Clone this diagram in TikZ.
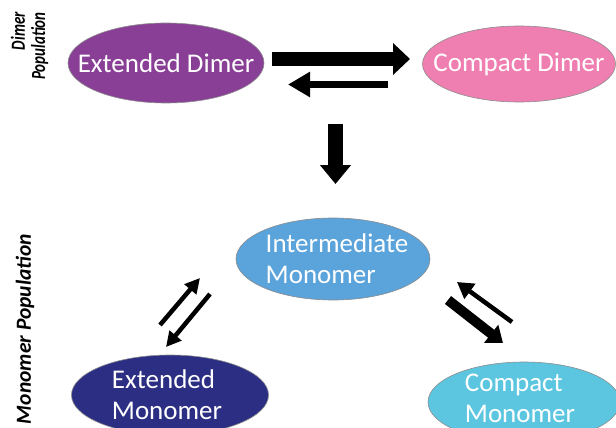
\documentclass[tikz,border=0pt]{standalone}
\usepackage{fontspec}
\setmainfont{Carlito}
\usetikzlibrary{arrows.meta,shapes.geometric}
\definecolor{cPurple}{HTML}{8A3F97}
\definecolor{cPink}{HTML}{F07FB1}
\definecolor{cMid}{HTML}{5AA3DB}
\definecolor{cNavy}{HTML}{2C2E83}
\definecolor{cCyan}{HTML}{5CC6E1}
\tikzset{
  state/.style={ellipse, draw=black!45, line width=0.6pt, inner sep=0pt},
  stxt/.style={text=white, inner sep=0pt, font=\fontsize{27}{31}\selectfont, align=left},
  blockarrow/.style={draw=black, line cap=butt},
  poplabel/.style={rotate=90, inner sep=0pt}
}
\begin{document}
\begin{tikzpicture}[x=1pt,y=-1pt]
\useasboundingbox[fill=white] (0,0) rectangle (616,428);
% nodes
\node[state, fill=cPurple, minimum width=196pt, minimum height=80pt,
  label={[stxt]center:Extended Dimer}] (ed) at (166,63) {};
\node[state, fill=cPink, minimum width=193pt, minimum height=76pt,
  label={[stxt]center:Compact Dimer}] (cd) at (519,64) {};
\node[state, fill=cMid, minimum width=194pt, minimum height=82pt,
  label={[stxt, xshift=4pt]center:Intermediate\\Monomer}] (im) at (333,259) {};
\node[state, fill=cNavy, minimum width=197pt, minimum height=80pt,
  label={[stxt, xshift=-3pt]center:Extended\\Monomer}] (em) at (170,395) {};
\node[state, fill=cCyan, minimum width=192pt, minimum height=80pt,
  label={[stxt, xshift=-4pt, yshift=4pt]center:Compact\\Monomer}] (cm) at (524,402) {};
% labels
\node[poplabel, anchor=east] (lbd) at (31,12)
  {\scalebox{0.75}[1]{\fontsize{20}{20}\bfseries\itshape\selectfont\begin{tabular}{@{}r@{}}Dimer\\Population\end{tabular}}};
\node[poplabel, font=\fontsize{21.5}{24}\bfseries\itshape\selectfont] (lbm) at (25,329) {Monomer Population};
% arrow coordinates
\coordinate (a1s) at (272,59);  \coordinate (a1e) at (410,59);
\coordinate (a2s) at (388,84.5);\coordinate (a2e) at (288,84.5);
\coordinate (a3s) at (335.5,124);\coordinate (a3e) at (335.5,184);
\coordinate (a4s) at (160,325); \coordinate (a4e) at (200,278);
\coordinate (a5s) at (210,294); \coordinate (a5e) at (166,347);
\coordinate (a6s) at (512,322); \coordinate (a6e) at (457,282);
\coordinate (a7s) at (448,300); \coordinate (a7e) at (503,343);
% arrows
\draw[blockarrow, line width=14pt, -{Triangle[width=31pt,length=17pt]}] (a1s) -- (a1e);
\draw[blockarrow, line width=7pt, -{Triangle[width=24pt,length=22pt]}] (a2s) -- (a2e);
\draw[blockarrow, line width=15pt, -{Triangle[width=30pt,length=19pt]}] (a3s) -- (a3e);
\draw[blockarrow, line width=4.5pt, -{Triangle[width=15pt,length=15pt]}] (a4s) -- (a4e);
\draw[blockarrow, line width=4.5pt, -{Triangle[width=15pt,length=15pt]}] (a5s) -- (a5e);
\draw[blockarrow, line width=4.5pt, -{Triangle[width=18pt,length=16pt]}] (a6s) -- (a6e);
\draw[blockarrow, line width=10pt, -{Triangle[width=22pt,length=15pt]}] (a7s) -- (a7e);
\end{tikzpicture}
\end{document}
